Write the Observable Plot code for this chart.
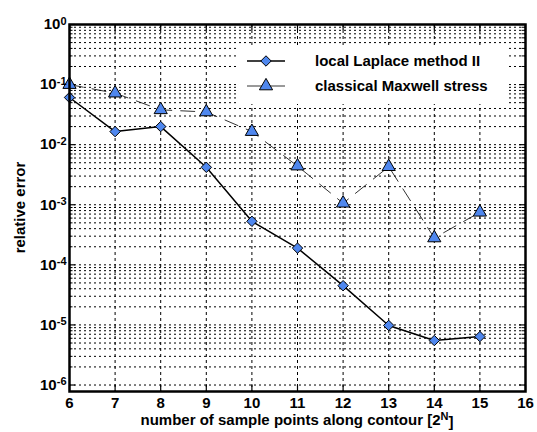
<!DOCTYPE html>
<html><head><meta charset="utf-8">
<script src="https://cdn.jsdelivr.net/npm/d3@7"></script>
<script src="https://cdn.jsdelivr.net/npm/@observablehq/plot@0.6"></script>
<style>
body{margin:0;background:#fff;}
#chart{position:relative;width:537px;height:432px;}
</style></head><body><div id="chart"></div>
<script>
// ---- data ----
const N = [6, 7, 8, 9, 10, 11, 12, 13, 14, 15];
const laplace = [0.061, 0.0165, 0.020, 0.0042, 5.3e-4, 1.9e-4, 4.5e-5, 9.8e-6, 5.5e-6, 6.4e-6];
const maxwell = [0.100, 0.072, 0.038, 0.035, 0.0165, 0.0044, 0.00106, 0.0043, 2.8e-4, 7.5e-4];
const seriesNames = ["local Laplace method II", "classical Maxwell stress"];
const xTicks = [6, 7, 8, 9, 10, 11, 12, 13, 14, 15, 16];
const yExponents = [-6, -5, -4, -3, -2, -1, 0];
const minorMultipliers = [2, 3, 4, 5, 6, 7, 8, 9];
const xTitle = "number of sample points along contour [2";
const xTitleSup = "N";
const xTitleEnd = "]";
const yTitle = "relative error";

// ---- derived tables ----
const yMajor = yExponents.map(e => Math.pow(10, e));
const yMinor = yExponents.slice(0, -1).flatMap(e => minorMultipliers.map(m => m * Math.pow(10, e)));
const rowsL = N.map((n, i) => ({n, v: laplace[i]}));
const rowsM = N.map((n, i) => ({n, v: maxwell[i]}));

const W = 537, H = 432, mL = 69, mR = 12, mT = 24, mB = 41;
const pw = W - mL - mR, ph = H - mT - mB;
const blue = "#4f87ee";
const font = "'Liberation Sans', Arial, Helvetica, sans-serif";
const rDiamond = 4.7, rTriangle = 4.9;

const plot = Plot.plot({
  width: W, height: H,
  marginLeft: mL, marginRight: mR, marginTop: mT, marginBottom: mB,
  style: {fontFamily: font, fontSize: "15px", fontWeight: "bold", background: "#fff", color: "#000", overflow: "visible"},
  x: {domain: [6, 16]},
  y: {type: "log", domain: [7.8e-7, 1]},
  marks: [
    // grid
    Plot.ruleY([...yMajor.slice(0, -1), ...yMinor], {stroke: "#000", strokeWidth: 1, strokeDasharray: "2,3"}),
    Plot.ruleX(xTicks.slice(1, -1), {stroke: "#000", strokeWidth: 1, strokeDasharray: "3,3"}),
    // inward ticks
    Plot.tickY(yMajor, {stroke: "#000", strokeWidth: 1.2, insetRight: pw - 6}),
    Plot.tickY(yMinor, {stroke: "#000", strokeWidth: 1, insetRight: pw - 3.5}),
    Plot.tickY(yMajor, {stroke: "#000", strokeWidth: 1.2, insetLeft: pw - 6}),
    Plot.tickY(yMinor, {stroke: "#000", strokeWidth: 1, insetLeft: pw - 3.5}),
    Plot.tickX(xTicks, {stroke: "#000", strokeWidth: 1.2, insetTop: ph - 6}),
    Plot.tickX(xTicks, {stroke: "#000", strokeWidth: 1.2, insetBottom: ph - 6}),
    // series
    Plot.line(rowsM, {x: "n", y: "v", stroke: "#000", strokeWidth: 0.8, strokeDasharray: "14,9"}),
    Plot.line(rowsL, {x: "n", y: "v", stroke: "#000", strokeWidth: 1.5}),
    Plot.dot(rowsM, {x: "n", y: "v", symbol: "triangle", r: rTriangle, fill: blue, stroke: "#000", strokeWidth: 1}),
    Plot.dot(rowsL, {x: "n", y: "v", symbol: "diamond2", r: rDiamond, fill: blue, stroke: "#000", strokeWidth: 1}),
    // axes
    Plot.axisX({ticks: xTicks, tickSize: 0, tickPadding: 6, tickFormat: d => String(d), label: null}),
    Plot.axisY({ticks: yMajor, tickSize: 0, tickPadding: 3, tickFormat: d => "10|" + Math.round(Math.log10(d)), label: null}),
    Plot.frame({stroke: "#000", strokeWidth: 2.5})
  ]
});

document.getElementById("chart").appendChild(plot);
const svg = d3.select(plot);

// superscript exponents on y tick labels
svg.selectAll('g[aria-label="y-axis tick label"] text').each(function() {
  const parts = this.textContent.split("|");
  const t = d3.select(this);
  t.text(null);
  t.append("tspan").text(parts[0]);
  t.append("tspan").attr("dy", "-0.42em").attr("font-size", "11px").text(parts[1]);
});

// axis titles
const xt = svg.append("text")
  .attr("x", mL + pw / 2).attr("y", 425)
  .attr("text-anchor", "middle")
  .attr("font-family", font).attr("font-size", "15px").attr("font-weight", "bold");
xt.append("tspan").text(xTitle);
xt.append("tspan").attr("dy", "-0.42em").attr("font-size", "11px").text(xTitleSup);
xt.append("tspan").attr("dy", "0.42em").text(xTitleEnd);

svg.append("text")
  .attr("transform", `translate(25,${mT + ph / 2}) rotate(-90)`)
  .attr("text-anchor", "middle")
  .attr("font-family", font).attr("font-size", "15px").attr("font-weight", "bold")
  .text(yTitle);

// legend
const lg = svg.append("g").attr("text-anchor", "start");
lg.append("rect").attr("x", 236).attr("y", 45).attr("width", 271).attr("height", 59)
  .attr("fill", "white").attr("stroke", "none").style("fill", "white");
const rowsY = [61, 86];
const legendSymbols = [d3.symbolDiamond2, d3.symbolTriangle];
const legendR = [rDiamond, rTriangle];
const legendWidths = [1.5, 0.8];
seriesNames.forEach((name, i) => {
  const y = rowsY[i];
  lg.append("line").attr("x1", 247).attr("x2", 285).attr("y1", y).attr("y2", y)
    .attr("stroke", "#000").attr("stroke-width", legendWidths[i]);
  lg.append("path").attr("d", d3.symbol(legendSymbols[i], Math.PI * legendR[i] * legendR[i])())
    .attr("transform", `translate(266,${y})`)
    .attr("fill", blue).attr("stroke", "#000").attr("stroke-width", 1);
  lg.append("text").attr("x", 315).attr("y", y + 5.3).attr("text-anchor", "start")
    .attr("font-family", font).attr("font-size", "15px").attr("font-weight", "bold")
    .text(name);
});
</script>
</body></html>
